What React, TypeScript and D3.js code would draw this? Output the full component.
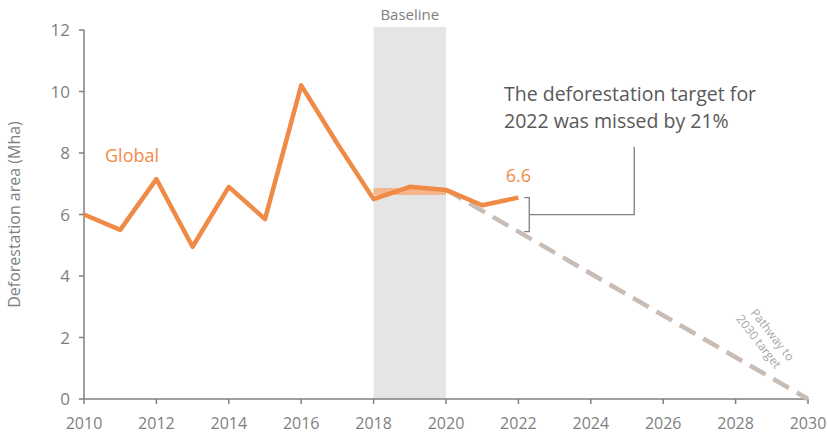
import * as d3 from "d3";

const years = [2010, 2011, 2012, 2013, 2014, 2015, 2016, 2017, 2018, 2019, 2020, 2021, 2022];
const globalValues = [6.0, 5.5, 7.15, 4.95, 6.9, 5.85, 10.2, 8.3, 6.5, 6.9, 6.8, 6.3, 6.55];
const baselineYears = [2018, 2020];
const baselineValue = 6.75;
const pathwayYears = [2020, 2030];
const pathwayValues = [6.8, 0];
const xTicks = [2010, 2012, 2014, 2016, 2018, 2020, 2022, 2024, 2026, 2028, 2030];
const yTicks = [0, 2, 4, 6, 8, 10, 12];

const W = 828;
const H = 433;
const FONT = "'Open Sans', sans-serif";
const ORANGE = "#f08a47";
const GRAY = "#7f7f7f";

export default function App() {
  const x = d3.scaleLinear().domain([2010, 2030]).range([84, 808]);
  const y = d3.scaleLinear().domain([0, 12]).range([399, 30]);
  const line = d3.line<[number, number]>().x((d) => x(d[0])).y((d) => y(d[1]));
  const globalPts = years.map((yr, i) => [yr, globalValues[i]] as [number, number]);
  const pathPts = pathwayYears.map((yr, i) => [yr, pathwayValues[i]] as [number, number]);
  const pathAt2022 = pathwayValues[0] * 0.8;
  const bx = x(2022.3);
  const bTop = y(globalValues[12]);
  const bBot = y(pathAt2022);
  const bMid = (bTop + bBot) / 2;

  return (
    <svg width={W} height={H} style={{ position: "absolute", left: 0, top: 0 }} fontFamily={FONT}>
      <rect x={x(baselineYears[0])} y={27} width={x(baselineYears[1]) - x(baselineYears[0])} height={y(0) - 27} fill="#e5e5e5" />
      <text x={x(2019)} y={20} textAnchor="middle" fontSize={15} fill={GRAY}>Baseline</text>
      <line x1={x(2010)} x2={x(2010)} y1={y(12)} y2={y(0)} stroke={GRAY} strokeWidth={1.5} />
      <line x1={x(2010)} x2={x(2030)} y1={y(0)} y2={y(0)} stroke={GRAY} strokeWidth={1.5} />
      {yTicks.map((t) => (
        <g key={t}>
          <line x1={x(2010) - 5} x2={x(2010)} y1={y(t)} y2={y(t)} stroke={GRAY} strokeWidth={1.5} />
          <text x={x(2010) - 14} y={y(t) + 6} textAnchor="end" fontSize={17} fill={GRAY}>{t}</text>
        </g>
      ))}
      {xTicks.map((t) => (
        <g key={t}>
          <line x1={x(t)} x2={x(t)} y1={y(0)} y2={y(0) + 5} stroke={GRAY} strokeWidth={1.5} />
          <text x={x(t)} y={y(0) + 30} textAnchor="middle" fontSize={16} fill={GRAY}>{t}</text>
        </g>
      ))}
      <text transform={`translate(20,${y(6)}) rotate(-90)`} textAnchor="middle" fontSize={16} fill={GRAY}>
        Deforestation area (Mha)
      </text>
      <path d={line(pathPts) ?? ""} fill="none" stroke="#c9bcb4" strokeWidth={4.5} strokeDasharray="18,9" />
      <line x1={x(baselineYears[0])} x2={x(baselineYears[1])} y1={y(baselineValue)} y2={y(baselineValue)} stroke="#f5b58c" strokeWidth={7} />
      <path d={line(globalPts) ?? ""} fill="none" stroke={ORANGE} strokeWidth={4.5} strokeLinejoin="round" />
      <text x={105} y={y(7.7)} fontSize={18} fill={ORANGE}>Global</text>
      <text x={x(2022)} y={y(7.05)} textAnchor="middle" fontSize={18} fill={ORANGE}>6.6</text>
      <path d={`M${bx - 5},${bTop}H${bx}V${bBot}H${bx - 5}M${bx},${bMid}H${x(2025.2)}V${y(8.2)}`} fill="none" stroke={GRAY} strokeWidth={1.3} />
      <text x={504} y={101} fontSize={19.5} fill="#595959">The deforestation target for</text>
      <text x={504} y={128} fontSize={19.5} fill="#595959">2022 was missed by 21%</text>
      <text transform={`translate(${x(2028.4)},${y(2.8)}) rotate(52)`} fontSize={12} fill="#a6a6a6">
        <tspan x={0} dy={0}>Pathway to</tspan>
        <tspan x={-4} dy={15}>2030 target</tspan>
      </text>
    </svg>
  );
}
